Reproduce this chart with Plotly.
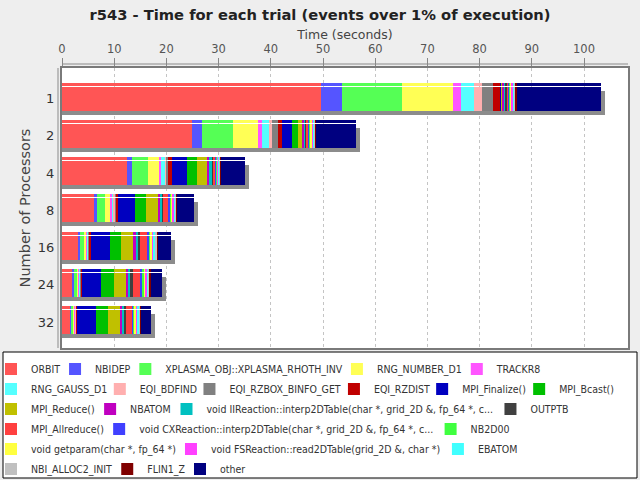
import plotly.graph_objects as go

# ---------------- data ----------------
processors = ["1", "2", "4", "8", "16", "24", "32"]

orbit         = [49.7, 24.9, 12.5, 6.2, 3.1, 2.1, 1.6]
nbidep        = [4.0, 1.9, 1.0, 0.5, 0.3, 0.2, 0.2]
xplasma       = [11.5, 5.9, 2.9, 1.5, 0.8, 0.5, 0.35]
rng_number    = [9.7, 4.8, 2.3, 1.1, 0.5, 0.4, 0.3]
trackr8       = [1.5, 0.8, 0.3, 0.2, 0.1, 0.1, 0.1]
rng_gauss     = [2.5, 1.3, 0.8, 0.4, 0.25, 0.17, 0.1]
eqi_bdfind    = [1.6, 0.7, 0.2, 0.2, 0.05, 0.05, 0.06]
eqi_rzbox     = [2.0, 1.0, 0.4, 0.4, 0.15, 0.15, 0.14]
eqi_rzdist    = [1.5, 0.9, 0.7, 0.2, 0.25, 0.15, 0.1]
mpi_finalize  = [0.1, 1.9, 2.9, 3.3, 3.6, 3.7, 3.6]
mpi_bcast     = [0.05, 1.1, 1.9, 2.1, 2.2, 2.35, 2.3]
mpi_reduce    = [0.05, 0.9, 1.9, 2.3, 2.3, 2.4, 2.2]
nbatom        = [0.4, 0.3, 0.3, 0.4, 0.5, 0.45, 0.4]
iireaction    = [0.4, 0.3, 0.8, 0.4, 0.4, 0.4, 0.4]
outptb        = [0.3, 0.2, 0.2, 0.2, 0.4, 0.4, 0.5]
mpi_allreduce = [0.1, 0.3, 0.3, 1.0, 1.4, 1.6, 1.1]
cxreaction    = [0.4, 0.3, 0.2, 0.3, 0.4, 0.3, 0.3]
nb2d00        = [0.1, 0.1, 0.1, 0.2, 0.2, 0.3, 0.2]
getparam      = [0.1, 0.2, 0.15, 0.3, 0.4, 0.3, 0.3]
fsreaction    = [0.5, 0.4, 0.2, 0.3, 0.3, 0.35, 0.2]
ebatom        = [0.1, 0.2, 0.15, 0.3, 0.3, 0.15, 0.3]
nbi_alloc2    = [0.3, 0.2, 0.1, 0.2, 0.3, 0.3, 0.2]
flin1_z       = [0.3, 0.1, 0.1, 0.1, 0.2, 0.2, 0.1]
other         = [16.1, 7.7, 4.6, 3.1, 2.5, 2.2, 2.0]

series_names = [
    "ORBIT", "NBIDEP", "XPLASMA_OBJ::XPLASMA_RHOTH_INV", "RNG_NUMBER_D1", "TRACKR8",
    "RNG_GAUSS_D1", "EQI_BDFIND", "EQI_RZBOX_BINFO_GET", "EQI_RZDIST", "MPI_Finalize()", "MPI_Bcast()",
    "MPI_Reduce()", "NBATOM", "void IIReaction::interp2DTable(char *, grid_2D &, fp_64 *, c...", "OUTPTB",
    "MPI_Allreduce()", "void CXReaction::interp2DTable(char *, grid_2D &, fp_64 *, c...", "NB2D00",
    "void getparam(char *, fp_64 *)", "void FSReaction::read2DTable(grid_2D &, char *)", "EBATOM",
    "NBI_ALLOC2_INIT", "FLIN1_Z", "other",
]
series_values = [
    orbit, nbidep, xplasma, rng_number, trackr8,
    rng_gauss, eqi_bdfind, eqi_rzbox, eqi_rzdist, mpi_finalize, mpi_bcast,
    mpi_reduce, nbatom, iireaction, outptb,
    mpi_allreduce, cxreaction, nb2d00,
    getparam, fsreaction, ebatom,
    nbi_alloc2, flin1_z, other,
]

# ---------------- style ----------------
series_colors = [
    "#FF5555", "#5555FF", "#55FF55", "#FFFF55", "#FF55FF",
    "#55FFFF", "#FFAFAF", "#808080", "#C00000", "#0000C0", "#00C000",
    "#C0C000", "#C000C0", "#00C0C0", "#404040",
    "#FF4040", "#4040FF", "#40FF40",
    "#FFFF40", "#FF40FF", "#40FFFF",
    "#C0C0C0", "#800000", "#000080",
]
legend_rows = [0] * 5 + [1] * 6 + [2] * 4 + [3] * 3 + [4] * 3 + [5] * 3

LEG_FONT = "DejaVu Sans Condensed, DejaVu Sans"
LEG_SIZE = 10.5
COND = 0.9
W = {' ': .318, '(': .390, ')': .390, '*': .5, ',': .318, '.': .318, ':': .337, '&': .779,
     '_': .5, '%': .95, '-': .361,
     'A': .684, 'B': .686, 'C': .698, 'D': .770, 'E': .632, 'F': .575, 'G': .775, 'H': .752,
     'I': .295, 'J': .295, 'K': .656, 'L': .557, 'M': .863, 'N': .748, 'O': .787, 'P': .603,
     'Q': .787, 'R': .695, 'S': .635, 'T': .611, 'U': .732, 'V': .684, 'W': .989, 'X': .685,
     'Y': .611, 'Z': .685,
     'a': .613, 'b': .635, 'c': .550, 'd': .635, 'e': .615, 'f': .352, 'g': .635, 'h': .634,
     'i': .278, 'j': .278, 'k': .579, 'l': .278, 'm': .974, 'n': .634, 'o': .612, 'p': .635,
     'q': .635, 'r': .411, 's': .521, 't': .392, 'u': .634, 'v': .592, 'w': .818, 'x': .592,
     'y': .592, 'z': .525}
for d in "0123456789":
    W[d] = .636


def text_px(s):
    return sum(W.get(c, 0.6) for c in s) * LEG_SIZE * COND


# per-row legend entry widths so each row stays on one line
entry_w = [0.0] * len(series_names)
for r in range(6):
    idx = [i for i, rr in enumerate(legend_rows) if rr == r]
    tws = [text_px(series_names[i]) for i in idx]
    k = len(idx)
    room = (639 - sum(tws) - 6 - 45 * k + 5 + 19 * (k - 1)) / (k - 1)
    g = max(1.0, min(9.0, room - 2))
    for j, i in enumerate(idx):
        entry_w[i] = tws[j] + 6 if j == k - 1 else tws[j] - 19 + g

# geometry helpers (pixels -> data units)
PX_PER_CAT = 37.25
PX_PER_SEC = 5.22
BAR_W = 24 / PX_PER_CAT
STRIP_OFF = -16 / PX_PER_CAT
STRIP_W = 3 / PX_PER_CAT
SHADOW_SHIFT = 4 / PX_PER_CAT
SHADOW_X = 4 / PX_PER_SEC

fig = go.Figure()

n = len(processors)
bases = []
acc = [0.0] * n
for vals in series_values:
    bases.append(list(acc))
    acc = [a + v for a, v in zip(acc, vals)]
totals = acc

# shadow
fig.add_trace(go.Bar(
    y=processors, x=[t + SHADOW_X for t in totals], base=[0] * n, orientation="h",
    width=BAR_W, offset=-BAR_W / 2 + SHADOW_SHIFT,
    marker=dict(color="#8C8C8C", line=dict(width=0)),
    showlegend=False, hoverinfo="skip",
))

for i, (name, vals, col) in enumerate(zip(series_names, series_values, series_colors)):
    row = legend_rows[i]
    lkey = "legend" if row == 0 else f"legend{row + 1}"
    fig.add_trace(go.Bar(
        y=processors, x=vals, base=bases[i], orientation="h",
        width=STRIP_W, offset=STRIP_OFF,
        marker=dict(color=col, line=dict(width=0)),
        showlegend=False, hoverinfo="skip",
    ))
    fig.add_trace(go.Bar(
        y=processors, x=vals, base=bases[i], orientation="h", name=name,
        width=BAR_W, offset=-BAR_W / 2,
        marker=dict(color=col, line=dict(width=0)),
        legend=lkey, legendwidth=max(entry_w[i], 1),
    ))

plot_h = 280.0
paper_w = 578.0   # plot area from x=62 to 640 (axis domain ends at 628)
axis_frac = 566.0 / paper_w

legends = {}
for r in range(6):
    key = "legend" if r == 0 else f"legend{r + 1}"
    legends[key] = dict(
        orientation="h", x=(-9 - 62) / paper_w, xanchor="left",
        y=-(21 + 20 * r) / plot_h, yanchor="middle",
        bgcolor="rgba(0,0,0,0)", borderwidth=0, traceorder="normal",
        font=dict(family=LEG_FONT, size=LEG_SIZE, color="#333333"),
    )

fig.update_layout(
    width=640, height=480,
    margin=dict(l=62, r=0, t=68, b=132, autoexpand=False),
    paper_bgcolor="#EEEEEE", plot_bgcolor="white",
    barmode="overlay", bargap=0,
    font=dict(family="DejaVu Sans", color="#444444"),
    title=dict(text="<b>r543 - Time for each trial (events over 1% of execution)</b>",
               x=0.5, xref="container", xanchor="center",
               y=1 - 15 / 480, yanchor="middle",
               font=dict(family="DejaVu Sans", size=14.7, color="#222222")),
    xaxis=dict(side="top", domain=[0, axis_frac], range=[0, 566 / PX_PER_SEC], dtick=10, tick0=0,
               showgrid=True, gridcolor="#C4C4C4", griddash="3px,3px", gridwidth=1,
               showline=True, mirror=True, linecolor="#7A7A7A", linewidth=2,
               ticks="outside", ticklen=8, tickcolor="#888888",
               tickfont=dict(size=11.5, color="#555555"), zeroline=False,
               title=dict(text="Time (seconds)", standoff=0,
                          font=dict(size=12.5, color="#444444"))),
    yaxis=dict(type="category", categoryorder="array", categoryarray=processors,
               range=[6 + 26 / PX_PER_CAT, -30.5 / PX_PER_CAT],
               showgrid=False, showline=True, mirror=True, linecolor="#7A7A7A", linewidth=2,
               ticks="", ticklabelstandoff=3,
               tickfont=dict(size=13, color="#333333"),
               title=dict(text="Number of Processors", standoff=4,
                          font=dict(size=14.5, color="#444444"))),
    shapes=[
        dict(type="rect", xref="paper", yref="paper",
             x0=(3 - 62) / paper_w, x1=(637 - 62) / paper_w,
             y0=(348 - 478) / plot_h, y1=(348 - 352) / plot_h,
             line=dict(color="#000000", width=1), fillcolor="white", layer="below"),
        dict(type="line", xref="paper", yref="paper", x0=0, x1=axis_frac,
             y0=1 + 4 / plot_h, y1=1 + 4 / plot_h, line=dict(color="#8A8A8A", width=1)),
        dict(type="line", xref="paper", yref="paper", x0=-4 / paper_w, x1=-4 / paper_w,
             y0=0, y1=1, line=dict(color="#8A8A8A", width=1)),
    ],
    **legends,
)

fig.write_html("out.html")
